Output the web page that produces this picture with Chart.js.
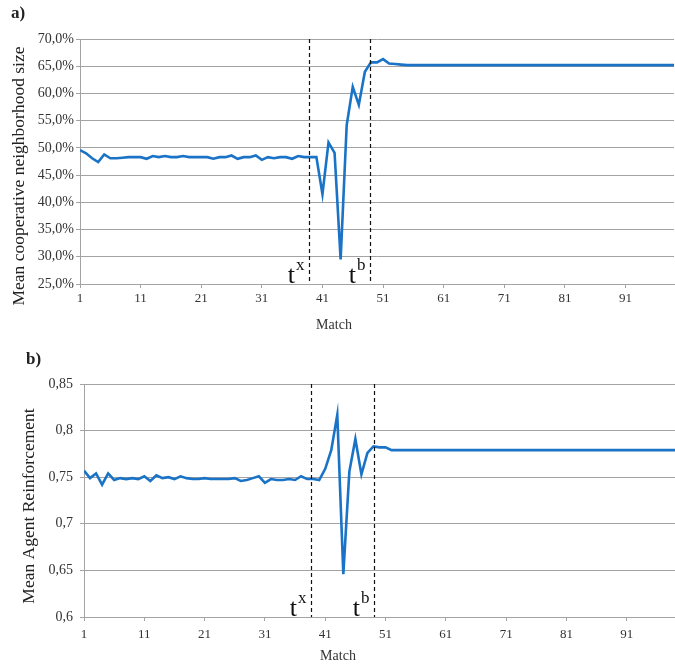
<!DOCTYPE html>
<html>
<head>
<meta charset="utf-8">
<script src="https://cdn.jsdelivr.net/npm/chart.js@4.4.1/dist/chart.umd.min.js"></script>
<style>
  body { margin: 0; background: #fff; }
  #wrap { position: relative; width: 675px; height: 664px; }
  .box { position: absolute; left: 0; width: 675px; }
  .tag { position: absolute; font-family: "Liberation Serif", serif; font-size: 17px; font-weight: bold; color: #222; }
</style>
</head>
<body>
<div id="wrap">
  <div class="box" style="top:0;height:340px"><canvas id="chartA" width="675" height="340"></canvas></div>
  <div class="box" style="top:340px;height:324px"><canvas id="chartB" width="675" height="324"></canvas></div>
  <div class="tag" style="left:11px;top:3px">a)</div>
  <div class="tag" style="left:26px;top:349px">b)</div>
</div>
<script>
// matches 1..99
const matches = Array.from({ length: 99 }, (_, i) => i + 1);
const xTicks = [1, 11, 21, 31, 41, 51, 61, 71, 81, 91];

// a) mean cooperative neighborhood size, %
const coopSize = [
  49.6, 49.0, 48.1, 47.4, 48.8, 48.1, 48.1, 48.2, 48.3, 48.3,
  48.3, 48.0, 48.5, 48.3, 48.5, 48.3, 48.3, 48.5, 48.3, 48.3,
  48.3, 48.3, 48.0, 48.3, 48.3, 48.6, 48.0, 48.3, 48.3, 48.6,
  47.8, 48.3, 48.1, 48.3, 48.3, 48.0, 48.5, 48.3, 48.3, 48.3,
  41.5, 51.0, 49.1, 29.5, 54.2, 61.2, 57.9, 64.0, 65.7, 65.7,
  66.3, 65.5, 65.4, 65.3, 65.2, 65.2, 65.2, 65.2, 65.2, 65.2,
  65.2, 65.2, 65.2, 65.2, 65.2, 65.2, 65.2, 65.2, 65.2, 65.2,
  65.2, 65.2, 65.2, 65.2, 65.2, 65.2, 65.2, 65.2, 65.2, 65.2,
  65.2, 65.2, 65.2, 65.2, 65.2, 65.2, 65.2, 65.2, 65.2, 65.2,
  65.2, 65.2, 65.2, 65.2, 65.2, 65.2, 65.2, 65.2, 65.2
];

// b) mean agent reinforcement
const reinforcement = [
  0.757, 0.749, 0.754, 0.742, 0.754, 0.747, 0.749, 0.748, 0.749, 0.748,
  0.751, 0.746, 0.752, 0.749, 0.750, 0.748, 0.751, 0.749, 0.748, 0.748,
  0.749, 0.748, 0.748, 0.748, 0.748, 0.749, 0.746, 0.747, 0.749, 0.751,
  0.744, 0.748, 0.747, 0.747, 0.748, 0.747, 0.751, 0.748, 0.748, 0.747,
  0.759, 0.779, 0.817, 0.646, 0.756, 0.791, 0.753, 0.776, 0.783, 0.782,
  0.782, 0.779, 0.779, 0.779, 0.779, 0.779, 0.779, 0.779, 0.779, 0.779,
  0.779, 0.779, 0.779, 0.779, 0.779, 0.779, 0.779, 0.779, 0.779, 0.779,
  0.779, 0.779, 0.779, 0.779, 0.779, 0.779, 0.779, 0.779, 0.779, 0.779,
  0.779, 0.779, 0.779, 0.779, 0.779, 0.779, 0.779, 0.779, 0.779, 0.779,
  0.779, 0.779, 0.779, 0.779, 0.779, 0.779, 0.779, 0.779, 0.779
];

// t^x and t^b positions (match number)
const markersA = [38.8, 48.8];
const markersB = [38.7, 49.1];
const markerSup = ['x', 'b'];

const serif = '"Liberation Serif", "Times New Roman", serif';
const gridGrey = '#a3a3a3';

// dashed vertical lines with t^x / t^b labels, plus axis titles
const markerPlugin = {
  id: 'markers',
  afterDatasetsDraw(chart, args, opts) {
    const { ctx, chartArea } = chart;
    const xs = chart.scales.x;
    ctx.save();
    opts.at.forEach((m, i) => {
      const px = Math.round(xs.getPixelForValue(m)) + 0.5;
      ctx.strokeStyle = '#111';
      ctx.lineWidth = 1.2;
      ctx.setLineDash([4, 3]);
      ctx.beginPath();
      ctx.moveTo(px, chartArea.top);
      ctx.lineTo(px, chartArea.bottom);
      ctx.stroke();
      ctx.setLineDash([]);

      ctx.fillStyle = '#111';
      ctx.textBaseline = 'alphabetic';
      ctx.textAlign = 'left';
      ctx.font = '26px ' + serif;
      const tW = ctx.measureText('t').width;
      ctx.font = '17px ' + serif;
      const sW = ctx.measureText(markerSup[i]).width;
      const x0 = px - 6 - tW - sW;
      const base = chartArea.bottom - 1;
      ctx.font = '26px ' + serif;
      ctx.fillText('t', x0, base);
      ctx.font = '17px ' + serif;
      ctx.fillText(markerSup[i], x0 + tW + 1, base - 13);
    });

    // axis titles
    ctx.textAlign = 'center';
    ctx.textBaseline = 'middle';
    ctx.fillStyle = '#333';
    ctx.font = '14px ' + serif;
    ctx.fillText('Match', opts.mx, opts.my);
    ctx.translate(opts.tx, opts.ty);
    ctx.rotate(-Math.PI / 2);
    ctx.fillStyle = '#222';
    ctx.font = '17.5px ' + serif;
    ctx.fillText(opts.title, 0, 0);
    ctx.restore();
  }
};

function makeChart(id, values, yMin, yMax, yStep, yFmt, yTitle, box, markers) {
  return new Chart(document.getElementById(id), {
    type: 'line',
    data: {
      datasets: [{
        data: matches.map((m, i) => ({ x: m, y: values[i] })),
        borderColor: '#1a73c6',
        borderWidth: 2.6,
        pointRadius: 0,
        tension: 0,
        fill: false
      }]
    },
    options: {
      responsive: false,
      animation: false,
      layout: { padding: { left: 0, top: box.top, right: box.right, bottom: 0 } },
      plugins: {
        legend: { display: false },
        tooltip: { enabled: false },
        markers: { at: markers, title: yTitle, tx: box.tx, ty: box.ty, mx: box.mx, my: box.my }
      },
      scales: {
        x: {
          type: 'linear',
          min: 1,
          max: 99,
          afterBuildTicks: (s) => { s.ticks = xTicks.map(v => ({ value: v })); },
          afterFit: (s) => { s.height = box.xh; },
          grid: { drawOnChartArea: false, drawTicks: true, tickLength: 4, color: gridGrey },
          border: { display: true, color: gridGrey },
          ticks: { font: { family: serif, size: 13 }, color: '#333', padding: box.xpad, maxRotation: 0 }
        },
        y: {
          min: yMin,
          max: yMax,
          ticks: { stepSize: yStep, callback: yFmt, font: { family: serif, size: 14 }, color: '#333', padding: box.ypad },
          afterFit: (s) => { s.width = box.yw; },
          grid: { color: gridGrey, tickLength: 4 },
          border: { display: true, color: gridGrey }
        }
      }
    },
    plugins: [markerPlugin]
  });
}

makeChart('chartA', coopSize, 25, 70, 5,
  (v) => v.toFixed(1).replace('.', ',') + '%',
  'Mean cooperative neighborhood size',
  { top: 39, right: 1, xh: 56, yw: 80, xpad: 3, ypad: 2, tx: 19, ty: 176, mx: 334, my: 325 },
  markersA);

makeChart('chartB', reinforcement, 0.6, 0.85, 0.05,
  (v) => String(+v.toFixed(2)).replace('.', ','),
  'Mean Agent Reinforcement',
  { top: 44, right: 0, xh: 47, yw: 84, xpad: 6, ypad: 7, tx: 29, ty: 166, mx: 338, my: 316 },
  markersB);
</script>
</body>
</html>
